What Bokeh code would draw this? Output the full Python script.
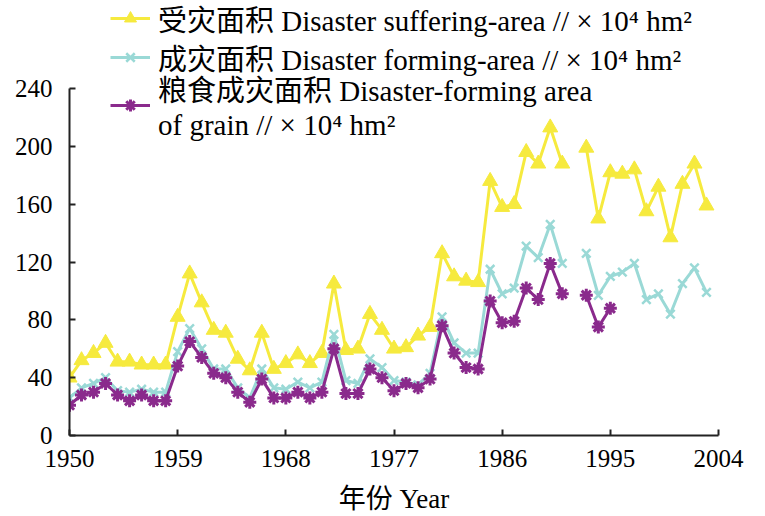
import numpy as np
from bokeh.plotting import figure
from bokeh.models import Legend, LegendItem, FixedTicker, ColumnDataSource
from bokeh.embed import file_html
from bokeh.resources import INLINE

nan = np.nan
years = list(range(1950, 2004))

suffering = [40, 52, 57, 64, 51, 51, 49, 49, 49, 82,
             112, 92, 73, 71, 53, 45, 71, 46, 50, 56,
             50, 57, 105, 59, 60, 84, 73, 60, 61, 69,
             75, 126, 110, 107, 106, 176, 158, 160, 196, 188,
             213, 188, nan, 199, 150, 182, 181, 184, 155, 172,
             137, 174, 188, 159]

forming = [26, 33, 36, 40, 31, 30, 32, 30, 30, 58,
           74, 60, 46, 46, 33, 26, 46, 33, 32, 37,
           33, 37, 70, 38, 36, 53, 47, 38, 37, 35,
           43, 82, 64, 57, 57, 115, 98, 102, 131, 123,
           146, 119, nan, 126, 97, 110, 113, 119, 94, 98,
           84, 105, 116, 99]

grain = [21, 28, 30, 36, 28, 24, 28, 24, 24, 48,
         65, 54, 43, 40, 30, 23, 39, 26, 26, 30,
         26, 30, 60, 29, 29, 46, 40, 31, 36, 33,
         39, 76, 57, 47, 46, 93, 78, 79, 102, 94,
         119, 98, nan, 97, 75, 88, nan, nan, nan, nan,
         nan, nan, nan, nan]

x_ticks = [1950, 1959, 1968, 1977, 1986, 1995, 2004]
y_ticks = [0, 40, 80, 120, 160, 200, 240]

labels = ["受灾面积 Disaster suffering-area // × 10⁴ hm²",
          "成灾面积 Disaster forming-area // × 10⁴ hm²",
          "粮食成灾面积 Disaster-forming area\nof grain // × 10⁴ hm²"]

YELLOW = "#F6EA3E"
CYAN = "#9AD9D6"
PURPLE = "#8A2A8C"
FONT = "Liberation Serif, Noto Sans CJK SC"

src = ColumnDataSource(dict(year=years, s=suffering, f=forming, g=grain))

p = figure(width=760, height=516, output_backend="svg", toolbar_location=None,
           x_range=(1950, 2004), y_range=(0, 300.9),
           min_border_left=69, min_border_right=42, min_border_top=0, min_border_bottom=81)
p.outline_line_color = None
p.xgrid.visible = False
p.ygrid.visible = False

l1 = p.line("year", "s", source=src, line_color=YELLOW, line_width=3)
m1 = p.scatter("year", "s", source=src, marker="triangle", size=15,
               fill_color=YELLOW, line_color=YELLOW)
l2 = p.line("year", "f", source=src, line_color=CYAN, line_width=3)
m2 = p.scatter("year", "f", source=src, marker="x", size=12,
               line_color=CYAN, line_width=2.5)
l3 = p.line("year", "g", source=src, line_color=PURPLE, line_width=3)
m3 = p.scatter("year", "g", source=src, marker="asterisk", size=13,
               line_color=PURPLE, line_width=3)

for ax in (p.xaxis[0], p.yaxis[0]):
    ax.axis_line_width = 2
    ax.axis_line_color = "#222222"
    ax.major_tick_in = 6
    ax.major_tick_out = 0
    ax.major_tick_line_width = 2
    ax.major_tick_line_color = "#222222"
    ax.minor_tick_line_color = None
    ax.major_label_text_font = FONT
    ax.major_label_text_font_size = "25px"
    ax.major_label_text_color = "black"

p.xaxis[0].ticker = FixedTicker(ticks=x_ticks)
p.yaxis[0].ticker = FixedTicker(ticks=y_ticks)
p.yaxis[0].bounds = (0, 240)
p.xaxis[0].major_label_standoff = 14
p.yaxis[0].major_label_standoff = 17
p.xaxis[0].axis_label = "年份 Year"
p.xaxis[0].axis_label_text_font = FONT
p.xaxis[0].axis_label_text_font_size = "27px"
p.xaxis[0].axis_label_text_font_style = "normal"
p.xaxis[0].axis_label_text_color = "black"
p.xaxis[0].axis_label_standoff = 14

def make_legend(label, renderers, vy):
    return Legend(items=[LegendItem(label=label, renderers=renderers)],
                  location=(41, vy), padding=0, margin=0, spacing=0,
                  border_line_color=None, background_fill_alpha=0,
                  label_text_font=FONT, label_text_font_size="29px",
                  label_text_color="black",
                  label_standoff=8, glyph_width=40, glyph_height=30, label_height=30)

p.add_layout(make_legend(labels[0], [l1, m1], 396), "center")
p.add_layout(make_legend(labels[1], [l2, m2], 357), "center")
p.add_layout(make_legend(labels[2], [l3, m3], 293), "center")

open("out.html", "w").write(file_html(p, INLINE))
